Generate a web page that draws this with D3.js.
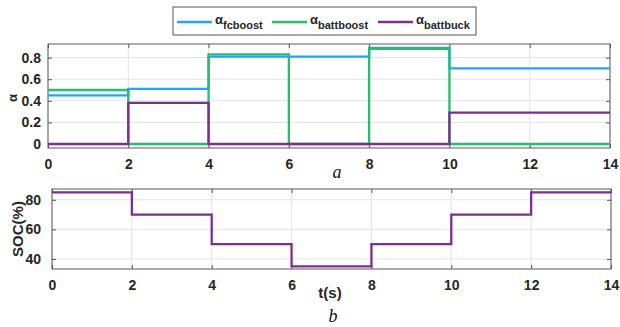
<!DOCTYPE html>
<html>
<head>
<meta charset="utf-8">
<title>D3</title>
<script src="https://d3js.org/d3.v7.min.js"></script>
<style>
	body { margin: 0; background: #fff; }
	text { font-family: "Liberation Sans", Arial, sans-serif; }
</style>
</head>
<body>
<script>

// time breakpoints (s)
var times = [0, 2, 4, 6, 8, 10, 12, 14];

// duty cycles, one value per 2 s segment
var fcboost   = [0.45, 0.51, 0.81, 0.81, 0.89, 0.70, 0.70];
var battboost = [0.50, 0.00, 0.83, 0.00, 0.88, 0.00, 0.00];
var battbuck  = [0.00, 0.38, 0.00, 0.00, 0.00, 0.29, 0.29];

// state of charge (%) per segment
var soc = [85, 70, 50, 35, 50, 70, 85];

var alphaTicks = [0, 0.2, 0.4, 0.6, 0.8];
var socTicks = [40, 60, 80];
var timeTicks = [0, 2, 4, 6, 8, 10, 12, 14];

var seriesNames = ["fcboost", "battboost", "battbuck"];
var colors = ["#1ea5ff", "#25bd6e", "#7e2d92"];

var svg = d3.select("body").append("svg")
	.attr("width", 620)
	.attr("height", 327);

svg.append("rect").attr("width", 620).attr("height", 327).attr("fill", "#fff");

// turn segment values into step points (last value repeated at the end)
function steps(vals) {
	return times.map(function(t, i) {
		return { t: t, v: vals[Math.min(i, vals.length - 1)] };
	});
}

function drawPanel(box, yDomain, yTicks, yFmt, yPad) {
	var x = d3.scaleLinear().domain([0, 14]).range([box.left, box.right]);
	var y = d3.scaleLinear().domain(yDomain).range([box.bottom, box.top]);
	var g = svg.append("g");

	// grid
	g.selectAll(".vg").data(timeTicks).enter().append("line")
		.attr("x1", function(d){ return x(d); }).attr("x2", function(d){ return x(d); })
		.attr("y1", box.top).attr("y2", box.bottom)
		.attr("stroke", "#e3e3e3").attr("stroke-width", 1);
	g.selectAll(".hg").data(yTicks).enter().append("line")
		.attr("x1", box.left).attr("x2", box.right)
		.attr("y1", function(d){ return y(d); }).attr("y2", function(d){ return y(d); })
		.attr("stroke", "#e3e3e3").attr("stroke-width", 1);

	// axes with inward ticks
	g.append("g").attr("transform", "translate(0," + box.bottom + ")")
		.call(d3.axisBottom(x).tickValues(timeTicks).tickSizeInner(-4).tickSizeOuter(0).tickPadding(11));
	g.append("g").attr("transform", "translate(" + box.left + ",0)")
		.call(d3.axisLeft(y).tickValues(yTicks).tickFormat(yFmt).tickSizeInner(-4).tickSizeOuter(0).tickPadding(yPad));
	g.append("g").attr("transform", "translate(0," + box.top + ")")
		.call(d3.axisTop(x).tickValues(timeTicks).tickSizeInner(-4).tickSizeOuter(0).tickFormat(""));
	g.append("g").attr("transform", "translate(" + box.right + ",0)")
		.call(d3.axisRight(y).tickValues(yTicks).tickSizeInner(-4).tickSizeOuter(0).tickFormat(""));

	g.selectAll(".domain").remove();
	g.selectAll(".tick line").attr("stroke", "#555");
	g.selectAll(".tick text")
		.attr("font-family", "Liberation Sans, Arial, sans-serif")
		.attr("font-size", 14).attr("font-weight", "bold").attr("fill", "#262626");

	g.append("rect")
		.attr("x", box.left).attr("y", box.top)
		.attr("width", box.right - box.left).attr("height", box.bottom - box.top)
		.attr("fill", "none").attr("stroke", "#5a5a5a").attr("stroke-width", 1);

	return { x: x, y: y, g: g };
}

// panel a
var pa = drawPanel({ left: 48, right: 610, top: 44, bottom: 148 }, [-0.037, 0.926], alphaTicks,
	function(d){ return d === 0 ? "0" : d3.format(".1f")(d); }, 7);
var lineA = d3.line().curve(d3.curveStepAfter)
	.x(function(d){ return pa.x(d.t); })
	.y(function(d){ return pa.y(d.v); });

[fcboost, battboost, battbuck].forEach(function(vals, i) {
	pa.g.append("path")
		.attr("d", lineA(steps(vals)))
		.attr("fill", "none")
		.attr("stroke", colors[i])
		.attr("stroke-width", 2.3);
});

// panel b
var pb = drawPanel({ left: 52, right: 611, top: 189, bottom: 269 }, [33.2, 87.3], socTicks, d3.format("d"), 11);
var lineB = d3.line().curve(d3.curveStepAfter)
	.x(function(d){ return pb.x(d.t); })
	.y(function(d){ return pb.y(d.v); });

pb.g.append("path")
	.attr("d", lineB(steps(soc)))
	.attr("fill", "none")
	.attr("stroke", colors[2])
	.attr("stroke-width", 2.3);

// axis labels
svg.append("text")
	.attr("transform", "translate(17,98) rotate(-90)")
	.attr("text-anchor", "middle")
	.attr("font-size", 13).attr("font-weight", "bold").attr("fill", "#262626")
	.text("α");

svg.append("text")
	.attr("transform", "translate(23,229) rotate(-90)")
	.attr("text-anchor", "middle")
	.attr("font-size", 15).attr("font-weight", "bold").attr("fill", "#262626")
	.text("SOC(%)");

svg.append("text")
	.attr("x", 330).attr("y", 298)
	.attr("text-anchor", "middle")
	.attr("font-size", 15).attr("font-weight", "bold").attr("fill", "#262626")
	.text("t(s)");

svg.append("text")
	.attr("x", 337).attr("y", 178)
	.attr("text-anchor", "middle")
	.style("font-family", "Liberation Serif, Times New Roman, serif")
	.attr("font-style", "italic").attr("font-size", 18).attr("fill", "#111")
	.text("a");

svg.append("text")
	.attr("x", 333).attr("y", 322)
	.attr("text-anchor", "middle")
	.style("font-family", "Liberation Serif, Times New Roman, serif")
	.attr("font-style", "italic").attr("font-size", 18).attr("fill", "#111")
	.text("b");

// legend
var legend = svg.append("g");
legend.append("rect")
	.attr("x", 173).attr("y", 7).attr("width", 303).attr("height", 28)
	.attr("fill", "#fff").attr("stroke", "#555").attr("stroke-width", 1);

var legendX = [177, 272, 378];
seriesNames.forEach(function(name, i) {
	var lx = legendX[i];
	legend.append("line")
		.attr("x1", lx).attr("x2", lx + 35)
		.attr("y1", 22).attr("y2", 22)
		.attr("stroke", colors[i]).attr("stroke-width", 2.3);
	var t = legend.append("text")
		.attr("x", lx + 38).attr("y", 24)
		.attr("font-size", 13).attr("font-weight", "bold").attr("fill", "#262626");
	t.append("tspan").text("α");
	t.append("tspan").attr("dy", 5).attr("font-size", 11).text(name);
});

</script>
</body>
</html>
